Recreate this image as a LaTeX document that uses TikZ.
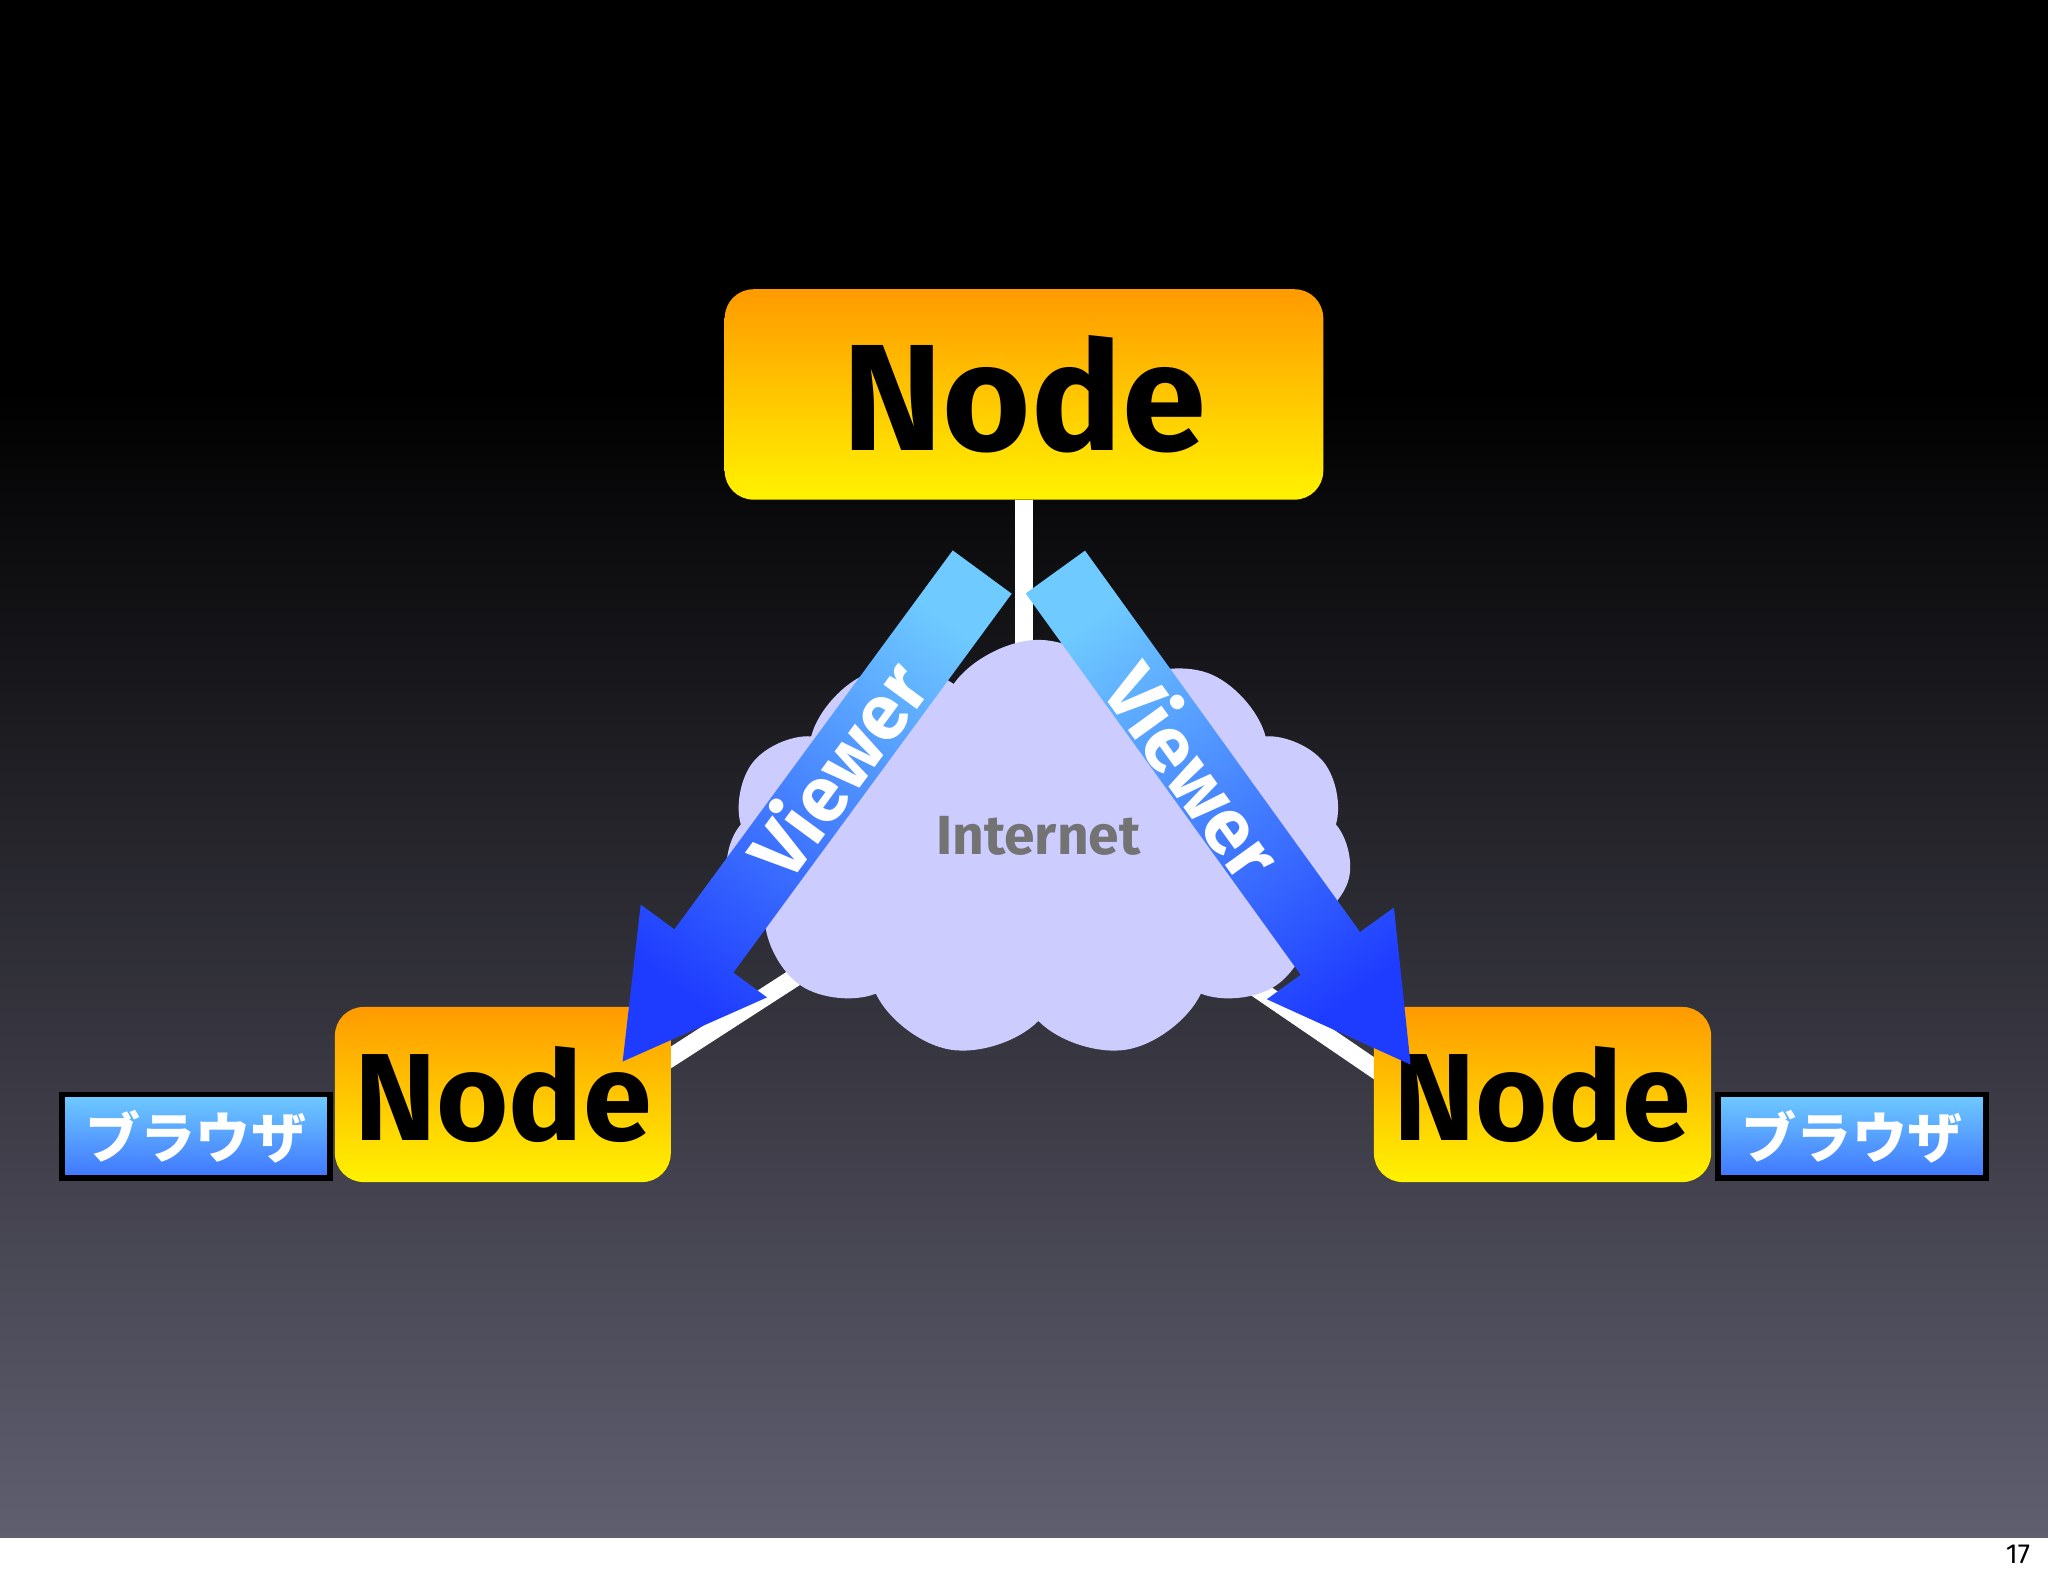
\documentclass[tikz,border=0pt]{standalone}
\usepackage{fontspec}
\setmainfont{Fira Sans}
\newfontfamily\cjk{Noto Sans CJK JP}
\usetikzlibrary{shapes.symbols}
\definecolor{bgbot}{HTML}{605F70}
\definecolor{org}{HTML}{FF9A00}
\definecolor{yel}{HTML}{FFF200}
\definecolor{lb}{HTML}{6FCBFF}
\definecolor{db}{HTML}{1E3CFF}
\tikzset{
 nodebox/.style={rounded corners=0.22cm,top color=org,bottom color=yel,draw=none,text=black,font=\bfseries},
 brow/.style={draw=black,line width=1.2pt,top color=lb,bottom color=db!60!lb,text=white,font=\cjk\bfseries\fontsize{12}{12}\selectfont,minimum width=2.05cm,minimum height=0.6cm},
 link/.style={white,line width=0.14cm},
 vtext/.style={text=white,font=\bfseries\fontsize{17}{17}\selectfont},
}
\begin{document}
\begin{tikzpicture}[x=0.01cm,y=0.01cm]
\useasboundingbox (0,0) rectangle (1568,-1207);
\fill[white] (0,0) rectangle (1568,-1207);
\fill[black] (0,0) rectangle (1568,-300);
\shade[top color=black,bottom color=bgbot] (0,-299) rectangle (1568,-1177);
\node at (1545,-1190) {\fontsize{6}{6}\selectfont 17};
% links
\coordinate (hub) at (784,-635);
\draw[link] (784,-383) -- (hub);
\draw[link] (hub) -- (510,-812);
\draw[link] (hub) -- (1058,-822);
% cloud
\node[cloud,cloud puffs=11,cloud puff arc=110,aspect=1.5,fill=blue!20!white,minimum width=4.8cm,minimum height=3.2cm] (cl) at (795,-650) {};
\node (inet) at (795,-640) {\bfseries\color{black!55}\fontsize{12}{12}\selectfont Internet};
% nodes
\node[nodebox,minimum width=4.58cm,minimum height=1.61cm,font=\bfseries\fontsize{33}{33}\selectfont] (top) at (784,-302) {Node};
\node[nodebox,minimum width=2.57cm,minimum height=1.34cm,font=\bfseries\fontsize{27}{27}\selectfont] (left) at (385,-838) {Node};
\node[nodebox,minimum width=2.58cm,minimum height=1.34cm,font=\bfseries\fontsize{27}{27}\selectfont] (right) at (1181,-838) {Node};
\node[brow] (bl) at (150,-870) {ブラウザ};
\node[brow] (br) at (1418,-870) {ブラウザ};
% arrows
\shade[top color=lb,bottom color=db,shading angle=-36.3] [shift={(752,-438)},rotate=233.7] (0,28) -- (360,28) -- (360,60) -- (465,0) -- (360,-60) -- (360,-28) -- (0,-28) -- cycle;
\node[rotate=53.7,vtext] (v1) at (640,-588) {Viewer};
\shade[top color=lb,bottom color=db,shading angle=35.8] [shift={(808,-438)},rotate=-54.2] (0,28) -- (360,28) -- (360,60) -- (465,0) -- (360,-60) -- (360,-28) -- (0,-28) -- cycle;
\node[rotate=-54.2,vtext] (v2) at (915,-590) {Viewer};
\end{tikzpicture}
\end{document}
